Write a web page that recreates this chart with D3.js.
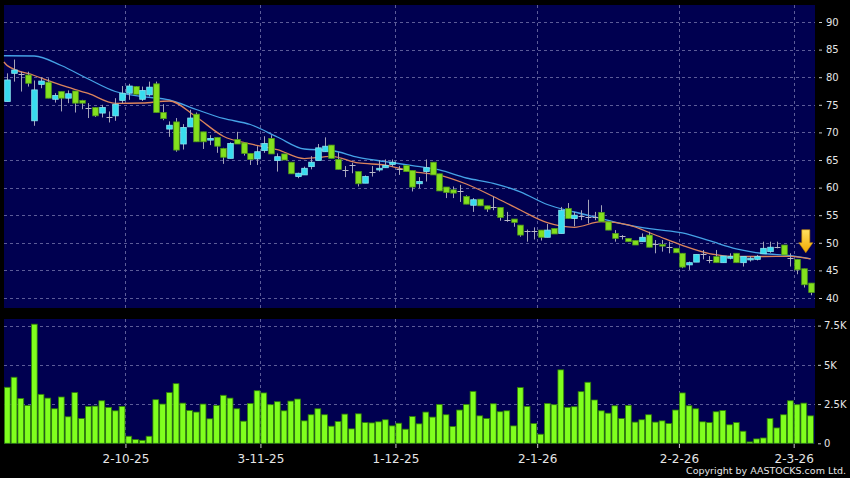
<!DOCTYPE html>
<html><head><meta charset="utf-8">
<script src="https://cdn.jsdelivr.net/npm/d3@7/dist/d3.min.js"></script>
<style>html,body{margin:0;padding:0;background:#000;}svg{display:block;}</style>
</head><body>
<script>
// ---- DATA ----
const opens  = [75.6,80.7,80.5,80.4,72.1,78.7,79.1,76.0,77.4,76.2,77.5,75.8,74.5,74.5,73.5,72.8,73.0,75.8,77.1,78.3,
                76.0,76.8,78.8,73.6,70.6,71.9,67.9,71.0,73.3,70.1,68.6,69.1,67.1,65.3,68.7,68.1,66.2,65.2,66.7,68.9,
                64.9,66.1,64.6,62.0,62.3,63.8,64.9,66.5,67.7,65.1,63.2,64.1,62.9,60.8,62.8,63.2,63.6,64.2,63.3,64.0,
                63.1,60.7,62.9,64.6,62.5,60.1,59.6,59.3,58.4,56.8,57.9,56.7,56.5,56.4,54.1,54.3,53.2,52.2,52.2,52.3,
                51.0,52.6,51.7,56.2,54.4,54.9,54.7,54.7,55.5,53.8,51.7,51.2,50.8,50.4,50.2,51.4,49.7,49.7,49.3,49.0,
                48.1,46.0,46.5,47.9,46.9,47.5,46.4,47.2,48.1,46.4,46.9,47.0,48.0,48.4,49.3,49.6,47.2,47.0,45.3,42.7];
const highs  = [80.7,83.2,81.0,81.0,79.4,80.0,79.8,77.1,77.4,77.6,77.5,75.9,75.3,74.6,75.0,73.8,76.2,78.4,78.8,78.4,
                78.3,79.2,79.2,75.1,72.0,72.6,71.5,74.1,73.6,70.1,69.5,69.1,67.2,68.2,70.1,68.1,66.2,67.5,69.3,69.5,
                66.2,66.1,64.6,62.7,63.8,65.7,67.9,69.1,67.7,66.4,63.9,64.5,62.9,62.2,63.9,65.0,65.1,65.1,63.9,64.0,
                63.1,61.9,65.1,64.6,62.5,60.1,60.2,60.5,58.6,58.1,57.9,56.7,58.4,56.4,55.6,54.3,53.2,52.4,52.8,52.3,
                53.4,52.6,56.5,57.2,55.6,55.9,57.8,55.6,56.8,53.8,52.3,51.4,50.8,50.4,51.7,52.0,50.5,50.5,50.2,49.0,
                48.1,46.6,47.9,48.7,47.6,48.7,47.6,48.1,48.1,47.5,47.6,47.8,50.2,50.2,50.2,49.6,48.1,47.0,45.3,42.7];
const lows   = [75.6,79.2,77.4,78.3,71.2,78.0,76.2,75.4,73.8,75.3,73.6,74.2,72.6,72.8,72.7,71.8,72.1,75.3,75.9,76.9,
                75.7,76.5,73.6,72.2,69.2,66.5,66.9,71.0,68.3,67.0,67.7,66.3,64.3,65.3,67.9,65.8,64.1,64.1,66.3,66.1,
                62.9,65.0,62.5,61.7,62.3,63.3,64.9,66.5,65.3,63.3,61.9,62.6,60.2,60.8,62.0,62.9,63.6,63.8,62.3,62.9,
                59.3,59.9,61.1,62.3,59.4,58.1,58.1,57.4,57.0,55.6,56.7,55.6,55.9,54.0,53.8,52.9,51.1,50.2,50.6,50.4,
                51.0,51.6,51.7,54.4,53.0,54.1,53.5,54.1,53.8,52.3,50.2,50.6,50.2,49.6,50.2,49.2,48.1,48.4,48.1,48.2,
                45.4,45.1,46.5,47.0,46.3,46.4,46.4,47.0,46.4,45.7,46.6,46.8,48.0,48.2,49.0,47.8,45.7,44.3,41.9,40.5];
const closes = [79.5,81.3,80.5,78.9,77.7,79.3,76.2,76.7,76.2,77.0,75.3,75.3,74.5,73.0,74.5,72.8,75.1,77.1,78.4,76.9,
                77.6,78.2,73.6,72.5,71.3,66.8,70.9,72.6,68.3,68.3,68.9,67.5,65.5,68.0,67.9,66.2,65.1,66.5,68.0,66.1,
                65.6,65.0,62.5,62.6,63.5,64.6,67.2,67.5,65.3,63.3,63.2,64.1,60.7,62.0,62.8,63.5,64.0,64.6,63.3,62.9,
                60.1,61.1,63.6,62.3,59.4,59.1,59.0,59.3,57.0,57.8,56.7,56.1,56.5,54.6,54.1,53.7,51.4,52.2,52.2,51.0,
                52.3,51.6,55.9,54.4,55.0,54.9,54.7,54.7,53.8,52.3,50.8,51.2,50.2,49.6,51.0,49.2,49.7,49.4,49.3,48.2,
                45.6,46.4,47.9,47.9,46.9,46.4,47.6,47.5,46.4,47.5,47.2,47.5,49.0,49.2,49.3,47.8,47.2,45.1,42.4,41.0];
const volumes = [3570,4210,2860,2410,7590,3120,2880,2200,2950,1690,3230,1580,2350,2370,2710,2290,2070,2350,450,240,
                 190,450,2780,2500,3230,3800,2560,2090,1990,2500,1560,2410,3060,2880,2200,1410,2540,3350,3210,2460,
                 2650,2070,2690,2820,1430,1820,2200,1820,1090,1390,1860,920,1880,1320,1300,1370,1500,1110,1280,900,
                 1710,1240,1990,1670,2480,1820,1070,2120,2480,3310,1750,1580,2520,2010,2070,1110,3550,2350,1260,580,
                 2540,2460,4680,2290,2330,3290,3890,2760,2070,1920,2390,1580,2410,1350,1500,1820,1350,1430,1260,2120,
                 3210,2390,2200,1370,1320,2010,2090,1180,1320,770,90,280,340,1580,980,1820,2710,2460,2560,1750];
// moving averages (candle index, value)
const maIdx   = [-0.5,0,4,8,12,16,20,24,28,32,36,40,44,48,52,56,60,64,68,72,76,80,84,88,92,96,100,104,108,112,116,119];
const maShort = [82.75,82.10,80.31,78.55,77.05,75.27,75.33,75.69,72.79,69.31,67.90,66.88,65.25,65.67,64.46,64.09,
                 62.90,62.28,60.65,58.39,55.94,53.64,52.81,53.82,53.24,51.41,49.53,48.04,47.52,47.52,47.54,47.07];
const maLong  = [83.89,83.89,83.84,82.12,79.67,77.41,76.50,75.87,74.15,72.52,71.43,69.17,66.99,66.72,65.49,64.71,
                 63.99,63.19,61.74,60.78,59.24,56.94,55.58,54.40,53.22,52.43,51.78,50.38,48.91,48.06,47.68,47.10];
const monthStartIdx = [18,38,58,79,100,117];
const monthLabels   = ["2-10-25","3-11-25","1-12-25","2-1-26","2-2-26","2-3-26"];
const priceTicks = [40,45,50,55,60,65,70,75,80,85,90];
const volTicks   = [0,2500,5000,7500];
const arrowIdx = 118, arrowPrice = 48.2;

// ---- CHART ----
const W = 850, H = 478;
const svg = d3.select("body").append("svg").attr("width", W).attr("height", H);
svg.append("rect").attr("width", W).attr("height", H).attr("fill", "#000");

const n = closes.length;
const x = d3.scaleLinear().domain([0, n - 1]).range([7.3, 810.55]);
const yP = d3.scaleLinear().domain([40, 90]).range([298, 22]);
const yV = d3.scaleLinear().domain([0, 7500]).range([443.3, 325.6]);
const left = 4, right = 815;
const pTop = 5, pBot = 308, vTop = 319, vBot = 444;
const navy = "#000050", gridC = "#5c5c98";

// panels
svg.append("rect").attr("x", left).attr("y", pTop).attr("width", right - left).attr("height", pBot - pTop).attr("fill", navy);
svg.append("rect").attr("x", left).attr("y", vTop).attr("width", right - left).attr("height", vBot - vTop).attr("fill", navy);

// grid
const g = svg.append("g").attr("stroke", gridC).attr("stroke-dasharray", "3,3").attr("stroke-width", 1);
priceTicks.forEach(t => g.append("line").attr("x1", left).attr("x2", right).attr("y1", Math.round(yP(t)) + 0.5).attr("y2", Math.round(yP(t)) + 0.5));
volTicks.filter(t => t > 0).forEach(t => g.append("line").attr("x1", left).attr("x2", right).attr("y1", Math.round(yV(t)) + 0.5).attr("y2", Math.round(yV(t)) + 0.5));
monthStartIdx.forEach(k => {
  const gx = Math.round(x(k - 0.5)) + 0.5;
  g.append("line").attr("x1", gx).attr("x2", gx).attr("y1", pTop).attr("y2", pBot);
  g.append("line").attr("x1", gx).attr("x2", gx).attr("y1", vTop).attr("y2", vBot);
});

// MA lines
const line = d3.line().x((d, i) => x(maIdx[i])).y(d => yP(d)).curve(d3.curveMonotoneX);
svg.append("path").datum(maLong).attr("d", line).attr("fill", "none").attr("stroke", "#45a2e6").attr("stroke-width", 1.3);
svg.append("path").datum(maShort).attr("d", line).attr("fill", "none").attr("stroke", "#dc845c").attr("stroke-width", 1.3);

// candles
const bw = 5.6;
const cg = svg.append("g");
d3.range(n).forEach(i => {
  const o = opens[i], c = closes[i], h = highs[i], l = lows[i];
  const cx = Math.round(x(i)) + 0.5;
  cg.append("line").attr("x1", cx).attr("x2", cx).attr("y1", yP(h)).attr("y2", yP(l))
    .attr("stroke", "#a4a4b8").attr("stroke-width", 1);
  if (Math.abs(o - c) < 0.05) {
    cg.append("line").attr("x1", cx - 3).attr("x2", cx + 3).attr("y1", Math.round(yP(c)) + 0.5).attr("y2", Math.round(yP(c)) + 0.5)
      .attr("stroke", "#b8b8c8").attr("stroke-width", 1);
  } else {
    const up = c > o;
    const top = yP(Math.max(o, c)), bot = yP(Math.min(o, c));
    cg.append("rect").attr("x", cx - bw / 2).attr("y", top).attr("width", bw).attr("height", Math.max(1.5, bot - top))
      .attr("fill", up ? "#38dcef" : "#84e01e")
      .attr("stroke", up ? "#8ae6f0" : "#4f9a18").attr("stroke-width", 0.8);
  }
});

// volume bars
svg.append("g").selectAll("rect").data(volumes).join("rect")
  .attr("x", (d, i) => x(i) - 2.9).attr("width", 5.8)
  .attr("y", d => yV(d)).attr("height", d => yV(0) - yV(d))
  .attr("fill", "#80ff1e").attr("stroke", "#2e7d08").attr("stroke-width", 0.8);

// arrow
const defs = svg.append("defs");
const grad = defs.append("linearGradient").attr("id", "ag").attr("x1", 0).attr("x2", 0).attr("y1", 0).attr("y2", 1);
grad.append("stop").attr("offset", "0%").attr("stop-color", "#ffe060");
grad.append("stop").attr("offset", "100%").attr("stop-color", "#f0a800");
const ax = x(arrowIdx) + 2, ay = yP(arrowPrice);
svg.append("path")
  .attr("d", `M${ax},${ay} L${ax - 7},${ay - 10} L${ax - 4},${ay - 10} L${ax - 4},${ay - 23} L${ax + 4},${ay - 23} L${ax + 4},${ay - 10} L${ax + 7},${ay - 10} Z`)
  .attr("fill", "url(#ag)").attr("stroke", "#c88a00").attr("stroke-width", 0.6);

// axes
const font = "DejaVu Sans, sans-serif";
const aP = svg.append("g").attr("transform", `translate(819,0)`)
  .call(d3.axisRight(yP).tickValues(priceTicks).tickSize(3).tickPadding(4).tickFormat(d3.format("d")));
const aV = svg.append("g").attr("transform", `translate(818,0)`)
  .call(d3.axisRight(yV).tickValues(volTicks).tickSize(3).tickPadding(3)
    .tickFormat(d => d === 0 ? "0" : (d / 1000) + "K"));
const aX = svg.append("g").attr("transform", `translate(0,${vBot})`)
  .call(d3.axisBottom(x).tickValues(monthStartIdx.map(k => k - 0.5)).tickSize(4).tickPadding(6)
    .tickFormat((d, i) => monthLabels[i]));
[aP, aV, aX].forEach(a => {
  a.select(".domain").remove();
  a.selectAll(".tick line").attr("stroke", "#c8c8c8");
  a.selectAll(".tick text").attr("fill", "#e6e6e6").attr("font-family", font);
});
aP.selectAll("text").attr("font-size", 10);
aV.selectAll("text").attr("font-size", 10);
aX.selectAll("text").attr("font-size", 12);

svg.append("text").attr("x", 846).attr("y", 474).attr("text-anchor", "end")
  .attr("font-family", font).attr("font-size", 9.5).attr("fill", "#e6e6e6")
  .text("Copyright by AASTOCKS.com Ltd.");
</script>
</body></html>
